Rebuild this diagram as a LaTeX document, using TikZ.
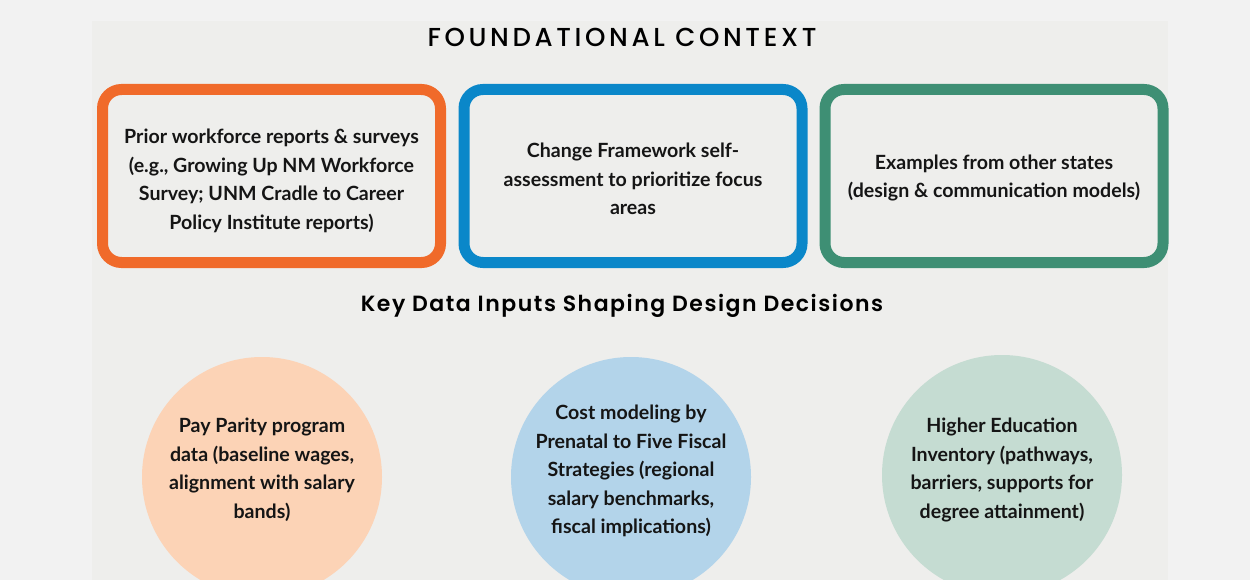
\documentclass[tikz,border=0pt]{standalone}
\usepackage{fontspec}
\setmainfont{Lato}
\newfontfamily\titlefont{Poppins Medium}[LetterSpace=14]
\newfontfamily\subtitlefont{Poppins SemiBold}[LetterSpace=7]
\definecolor{pagegray}{HTML}{F2F2F2}
\definecolor{panelgray}{HTML}{EEEEEC}
\definecolor{ink}{HTML}{151515}
\definecolor{frameorange}{HTML}{F06A2A}
\definecolor{frameblue}{HTML}{0A87C9}
\definecolor{framegreen}{HTML}{3E8F74}
\definecolor{peach}{HTML}{FCD3B6}
\definecolor{skyblue}{HTML}{B3D4EA}
\definecolor{sage}{HTML}{C5DCD2}
\tikzset{
  framebox/.style={draw=#1, line width=11pt, rounded corners=19pt,
    minimum width=338pt, minimum height=173pt, inner sep=0pt},
  bodytext/.style={text=ink, align=center, inner sep=0pt,
    font=\bfseries\fontsize{19.6}{28.5}\selectfont},
  disc/.style={circle, fill=#1, minimum size=240pt, inner sep=0pt},
  heading/.style={text=black, inner sep=0pt}
}
\begin{document}
\begin{tikzpicture}[x=1pt,y=-1pt]
\useasboundingbox (0,0) rectangle (1250,580);
\fill[pagegray] (0,0) rectangle (1250,580);
\fill[panelgray] (92,21) rectangle (1168,580);

% headings
\node[heading, font=\titlefont\fontsize{26}{30}\selectfont] (title) at (622,37) {FOUNDATIONAL CONTEXT};
\node[heading, font=\subtitlefont\fontsize{22}{26}\selectfont] (keyinputs) at (622,306) {Key Data Inputs Shaping Design Decisions};

% foundational context boxes
\node[framebox=frameorange] (prior) at (271.5,176) {};
\node[bodytext] (priortxt) at (271.5,181) {Prior workforce reports \& surveys\\(e.g., Growing Up NM Workforce\\Survey; UNM Cradle to Career\\Policy Institute reports)};

\node[framebox=frameblue] (change) at (633,176) {};
\node[bodytext] (changetxt) at (633,179) {Change Framework self-\\assessment to prioritize focus\\areas};

\node[framebox=framegreen] (examples) at (994,176) {};
\node[bodytext] (examplestxt) at (994,178) {Examples from other states\\(design \& communication models)};

% data input circles
\node[disc=peach] (pay) at (262,477) {};
\node[bodytext] (paytxt) at (262,470) {Pay Parity program\\data (baseline wages,\\alignment with salary\\bands)};

\node[disc=skyblue] (cost) at (631,477) {};
\node[bodytext] (costtxt) at (631,471) {Cost modeling by\\Prenatal to Five Fiscal\\Strategies (regional\\salary benchmarks,\\fiscal implications)};

\node[disc=sage] (higher) at (1002,475) {};
\node[bodytext] (highertxt) at (1002,470) {Higher Education\\Inventory (pathways,\\barriers, supports for\\degree attainment)};
\end{tikzpicture}
\end{document}
